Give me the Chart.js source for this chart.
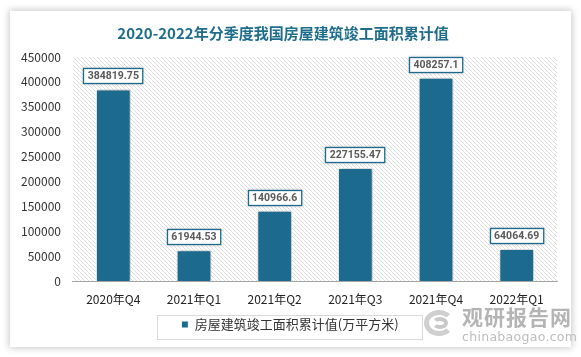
<!DOCTYPE html>
<html><head><meta charset="utf-8">
<script src="https://cdn.jsdelivr.net/npm/chart.js@4"></script>
<style>
html,body{margin:0;padding:0;background:#fff;}
#wrap{position:relative;width:581px;height:357px;overflow:hidden;background:#fff;}
#card{position:absolute;left:10px;top:11px;width:561px;height:336px;background:#fff;box-shadow:0 0 7px 1px rgba(0,0,0,0.22);}
#c{position:absolute;left:0;top:0;}
#wm1{position:absolute;left:462px;top:304px;font:bold 21px "Noto Sans CJK SC";color:#b4b4b4;letter-spacing:1px;line-height:24px;}
#wm2{position:absolute;left:462px;top:330px;font:12.5px "DejaVu Sans";color:#bdbdbd;line-height:14px;letter-spacing:0.3px;}
#logo{position:absolute;left:424px;top:310px;width:30px;height:26px;border:5px solid #cfcfcf;border-radius:50%;border-right-color:transparent;box-sizing:border-box;}
#logo2{position:absolute;left:432px;top:317px;width:16px;height:12px;border:4px solid #c8c8c8;border-radius:50%;border-left-color:transparent;box-sizing:border-box;}
</style></head>
<body><div id="wrap"><div id="card"></div><canvas id="c" width="581" height="357"></canvas>
<div id="logo"></div><div id="logo2"></div>
<div id="wm1">观研报告网</div><div id="wm2">chinabaogao.com</div></div>
<script>
const titleText = '2020-2022年分季度我国房屋建筑竣工面积累计值';
const categories = ['2020年Q4','2021年Q1','2021年Q2','2021年Q3','2021年Q4','2022年Q1'];
const seriesName = '房屋建筑竣工面积累计值(万平方米)';
const seriesValues = [384819.75, 61944.53, 140966.6, 227155.47, 408257.1, 64064.69];
const labelTexts = ['384819.75','61944.53','140966.6','227155.47','408257.1','64064.69'];
const yTicks = [0,50000,100000,150000,200000,250000,300000,350000,400000,450000];

const barColor = '#1c6b8f';

function makeHatch(){
  const p = document.createElement('canvas'); p.width = 4; p.height = 4;
  const g = p.getContext('2d');
  g.fillStyle = '#ffffff'; g.fillRect(0,0,4,4);
  g.fillStyle = '#dedede';
  for(let i=0;i<4;i++){ g.fillRect(i,i,1,1); }
  return p;
}

const hatchPlugin = {
  id:'hatch',
  beforeDatasetsDraw(chart){
    const {ctx, chartArea:a} = chart;
    ctx.save();
    const pat = ctx.createPattern(makeHatch(),'repeat');
    ctx.fillStyle = pat;
    ctx.fillRect(Math.round(a.left), Math.round(a.top), Math.round(a.right-a.left), Math.round(a.bottom-a.top));
    ctx.restore();
  }
};

const shadowPlugin = {
  id:'barShadow',
  beforeDatasetDraw(chart){
    const ctx = chart.ctx; ctx.save();
    ctx.shadowColor='rgba(0,0,0,0.35)'; ctx.shadowBlur=4; ctx.shadowOffsetX=1; ctx.shadowOffsetY=0;
  },
  afterDatasetDraw(chart){ chart.ctx.restore(); }
};

const labelPlugin = {
  id:'valueLabels',
  afterDatasetsDraw(chart){
    const ctx = chart.ctx;
    const meta = chart.getDatasetMeta(0);
    ctx.save();
    ctx.font = 'bold 10.5px Roboto';
    ctx.textAlign='center'; ctx.textBaseline='middle';
    meta.data.forEach((el,i)=>{
      const t = labelTexts[i];
      const w = ctx.measureText(t).width + 9;
      const h = 16;
      const x = Math.round(el.x - w/2), y = Math.round(el.y - 5 - h);
      ctx.shadowColor='rgba(0,0,0,0.25)'; ctx.shadowBlur=3;
      ctx.fillStyle='#fff'; ctx.fillRect(x,y,w,h);
      ctx.shadowColor='transparent'; ctx.shadowBlur=0;
      ctx.strokeStyle=barColor; ctx.lineWidth=1.3;
      ctx.strokeRect(x+0.5,y+0.5,w-1,h-1);
      ctx.fillStyle='#595959';
      ctx.fillText(t, el.x, y+h/2+0.5);
    });
    ctx.restore();
  }
};

const legendBoxPlugin = {
  id:'legendBox',
  afterLayout(chart){
    if(chart.legend){ chart.legend.left += 7; chart.legend.right += 7; }
  },
  afterDraw(chart){
    const ctx = chart.ctx;
    ctx.save();
    ctx.strokeStyle='#d9d9d9'; ctx.lineWidth=1;
    ctx.strokeRect(157.5,315.5,265,24);
    ctx.restore();
  }
};

new Chart(document.getElementById('c'),{
  type:'bar',
  data:{labels:categories,datasets:[{label:seriesName,data:seriesValues,backgroundColor:barColor,borderColor:'#ffffff',borderWidth:1,categoryPercentage:1,barPercentage:0.43}]},
  options:{
    responsive:false,animation:false,
    layout:{padding:{left:9,right:24,top:0,bottom:16}},
    plugins:{
      title:{display:true,text:titleText,color:'#1f6d8c',font:{family:'Noto Sans CJK SC',size:15,weight:'bold'},padding:{top:24,bottom:15}},
      legend:{display:true,position:'bottom',labels:{boxWidth:7,boxHeight:7,color:'#333',font:{family:'Noto Sans CJK SC',size:13},padding:1}},
      tooltip:{enabled:false}
    },
    scales:{
      x:{grid:{display:false,drawTicks:false},border:{display:true,color:'#a6a6a6',width:1},
         afterFit(s){ s.height = 36; },
         ticks:{color:'#222',font:{family:'Noto Sans CJK SC',size:12},padding:11}},
      y:{min:0,max:450000,afterBuildTicks(s){s.ticks=yTicks.map(v=>({value:v}));},
         grid:{display:false,drawTicks:false},border:{display:false},
         ticks:{color:'#333',font:{family:'Noto Sans CJK SC',size:12},padding:12,callback:v=>String(v)}}
    }
  },
  plugins:[hatchPlugin,shadowPlugin,labelPlugin,legendBoxPlugin]
});
</script></body></html>
